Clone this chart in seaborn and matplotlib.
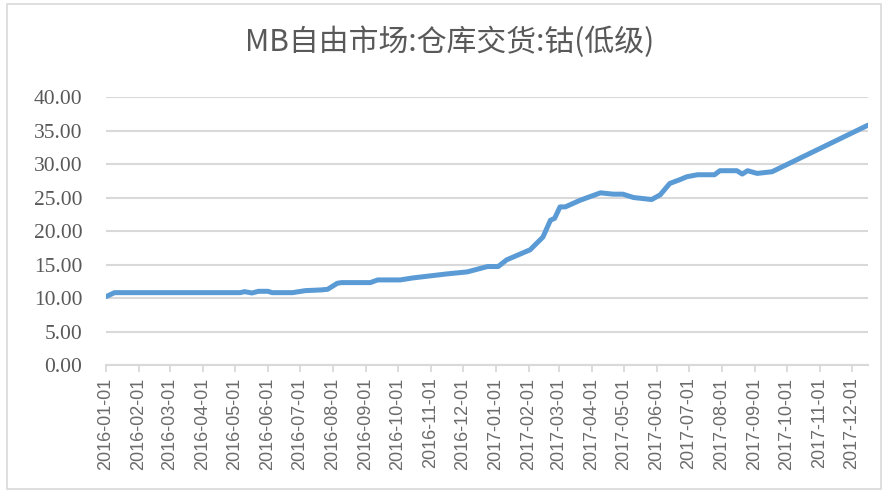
import matplotlib
matplotlib.use('agg')
import matplotlib.pyplot as plt
import matplotlib.dates as mdates
from matplotlib.patches import Rectangle
import pandas as pd
import seaborn as sns

# price points (date, value)
dates = ['2016-01-01', '2016-01-09', '2016-05-06', '2016-05-10', '2016-05-17',
         '2016-05-23', '2016-06-01', '2016-06-05', '2016-06-24', '2016-07-06',
         '2016-07-20', '2016-07-27', '2016-08-05', '2016-08-09', '2016-09-05',
         '2016-09-12', '2016-10-03', '2016-10-15', '2016-11-16', '2016-12-05',
         '2016-12-24', '2017-01-03', '2017-01-11', '2017-02-02', '2017-02-14',
         '2017-02-21', '2017-02-25', '2017-03-02', '2017-03-07', '2017-03-21',
         '2017-04-09', '2017-04-21', '2017-04-30', '2017-05-10', '2017-05-27',
         '2017-06-04', '2017-06-13', '2017-06-23', '2017-06-29', '2017-07-09',
         '2017-07-25', '2017-07-30', '2017-08-15', '2017-08-20', '2017-08-25',
         '2017-09-03', '2017-09-17', '2017-12-16']
values = [10.2, 10.8, 10.8, 10.95, 10.75,
          11.0, 11.0, 10.8, 10.8, 11.1,
          11.2, 11.3, 12.2, 12.3, 12.3,
          12.7, 12.7, 13.0, 13.6, 13.9,
          14.7, 14.7, 15.7, 17.2, 19.1,
          21.6, 21.9, 23.6, 23.6, 24.6,
          25.7, 25.5, 25.5, 25.0, 24.7,
          25.4, 27.1, 27.7, 28.1, 28.4,
          28.4, 29.0, 29.0, 28.5, 29.0,
          28.6, 28.85, 35.8]
title = 'MB自由市场:仓库交货:钴(低级)'
y_ticks = [0, 5, 10, 15, 20, 25, 30, 35, 40]

df = pd.DataFrame({'date': pd.to_datetime(dates), 'value': values})

sns.set_theme(style='white')
plt.rcParams['font.family'] = ['Noto Sans CJK SC', 'DejaVu Sans']

fig = plt.figure(figsize=(8.86, 4.92), dpi=100, facecolor='white')
fig.patches.append(Rectangle((0.008, 0.006), 0.986, 0.986, transform=fig.transFigure,
                             fill=False, edgecolor='#d9d9d9', linewidth=1.2))
ax = fig.add_axes([0.1196, 0.2581, 0.8601, 0.5447])

sns.lineplot(data=df, x='date', y='value', ax=ax, color='#5b9bd5', linewidth=3.6)

ax.set_ylim(0, 40)
ax.set_yticks(y_ticks)
ax.set_yticklabels([f'{v:.2f}' for v in y_ticks], family='Liberation Serif',
                   fontsize=15.5, color='#595959')
ax.set_xlim(pd.Timestamp('2016-01-01'), pd.Timestamp('2017-12-16'))
ax.xaxis.set_major_locator(mdates.MonthLocator())
ax.xaxis.set_major_formatter(mdates.DateFormatter('%Y-%m-%d'))
plt.setp(ax.get_xticklabels(), rotation=90, family='Liberation Sans',
         fontsize=13, color='#6b6b6b')

ax.grid(axis='y', color='#d9d9d9', linewidth=1.5)
ax.set_axisbelow(True)
for side in ['top', 'right', 'left']:
    ax.spines[side].set_visible(False)
ax.spines['bottom'].set_color('#d9d9d9')
ax.spines['bottom'].set_linewidth(1.5)
ax.tick_params(axis='x', bottom=True, length=5, width=1.3, color='#d9d9d9', pad=4)
ax.tick_params(axis='y', left=False, pad=11)
ax.set_xlabel('')
ax.set_ylabel('')

fig.text(0.508, 0.915, title, ha='center', va='center', fontsize=21.5,
         color='#595959', fontweight='light')

fig.savefig('out.png', dpi=100)
